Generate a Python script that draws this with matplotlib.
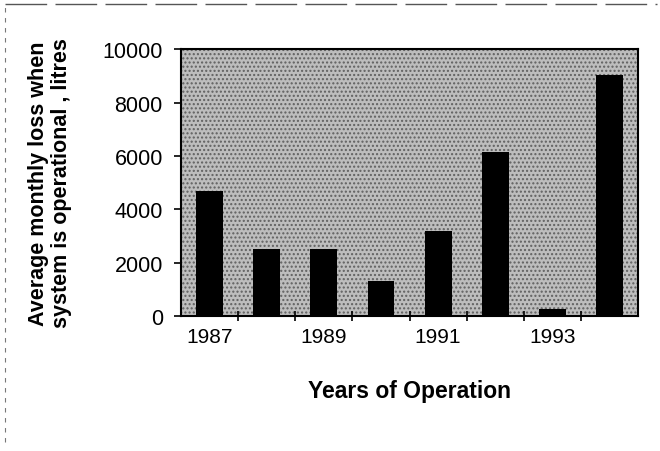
import numpy as np
import matplotlib
matplotlib.use("Agg")
import matplotlib.pyplot as plt
from matplotlib.patches import Rectangle

years = ["1987", "1988", "1989", "1990", "1991", "1992", "1993", "1994"]
loss = [4700, 2500, 2500, 1300, 3200, 6150, 250, 9050]
shown_years = ["1987", "1989", "1991", "1993"]
y_ticks = [0, 2000, 4000, 6000, 8000, 10000]

plt.rcParams["font.family"] = ["Liberation Sans", "DejaVu Sans"]
plt.rcParams["hatch.color"] = "#555555"
plt.rcParams["hatch.linewidth"] = 1.0

fig = plt.figure(figsize=(6.6, 4.52), dpi=100)
ax = fig.add_axes([0.274, 0.299, 0.693, 0.590])

# stippled grey plot area
ax.set_facecolor("#bdbdbd")
ax.add_patch(Rectangle((0, 0), 1, 1, transform=ax.transAxes, facecolor="none",
                       edgecolor="#606060", hatch="....", linewidth=0, zorder=0))

x = np.arange(len(years))
ax.bar(x, loss, width=0.47, color="black", zorder=2)

ax.set_xlim(-0.5, len(years) - 0.5)
ax.set_ylim(0, 10000)
ax.set_yticks(y_ticks)
ax.set_yticklabels([str(v) for v in y_ticks], fontsize=15.5)
ax.tick_params(axis="y", direction="out", length=5, width=1.2, pad=8)

ax.set_xticks([years.index(y) for y in shown_years])
ax.set_xticklabels(shown_years, fontsize=15)
ax.tick_params(axis="x", which="major", length=0, pad=8)
ax.set_xticks(np.arange(0.5, len(years) - 0.5, 1), minor=True)
ax.tick_params(axis="x", which="minor", direction="inout", length=7, width=1.2)

for s in ax.spines.values():
    s.set_linewidth(1.5)
    s.set_color("black")

ax.set_xlabel("Years of Operation", fontsize=16.5, fontweight="bold", labelpad=24)
ax.set_ylabel("Average monthly loss when\nsystem is operational , litres",
              fontsize=15.5, fontweight="bold", linespacing=1.1, labelpad=22)

# scanned page frame
fig.add_artist(plt.Line2D([0.008, 0.995], [0.988, 0.988], color="#555555",
                          linewidth=1.0, linestyle=(0, (30, 6))))
fig.add_artist(plt.Line2D([0.008, 0.008], [0.02, 0.988], color="#777777",
                          linewidth=0.8, linestyle=(0, (4, 5))))

fig.savefig("out.png", dpi=100)
